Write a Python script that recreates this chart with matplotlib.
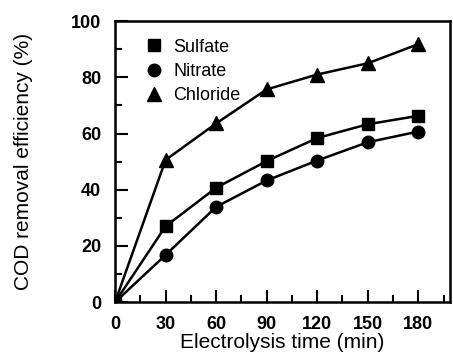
import matplotlib
matplotlib.use("Agg")
import matplotlib.pyplot as plt
from matplotlib.ticker import MultipleLocator

plt.rcParams['font.family'] = ['Liberation Sans', 'DejaVu Sans']

time = [0, 30, 60, 90, 120, 150, 180]
sulfate = [0, 27, 40.7, 50.2, 58.4, 63.3, 66.3]
nitrate = [0, 16.8, 33.9, 43.3, 50.4, 56.9, 60.7]
chloride = [0, 50.6, 63.6, 75.7, 81.0, 85.0, 91.8]
xticks = [0, 30, 60, 90, 120, 150, 180]
yticks = [0, 20, 40, 60, 80, 100]

fig = plt.figure(figsize=(4.53, 3.58), dpi=100)
ax = fig.add_axes([0.254, 0.156, 0.74, 0.785])

ax.plot(time, sulfate, '-s', color='black', lw=1.8, ms=9, label='Sulfate')
ax.plot(time, nitrate, '-o', color='black', lw=1.8, ms=9, label='Nitrate')
ax.plot(time, chloride, '-^', color='black', lw=1.8, ms=10, label='Chloride')

ax.set_xlim(0, 199)
ax.set_ylim(0, 100)
ax.set_xticks(xticks)
ax.set_yticks(yticks)
ax.xaxis.set_minor_locator(MultipleLocator(15))
ax.yaxis.set_minor_locator(MultipleLocator(10))
ax.tick_params(which='major', direction='in', length=9, width=1.5, labelsize=13, pad=10)
ax.tick_params(which='minor', direction='in', length=5, width=1.5)
for lab in ax.get_xticklabels() + ax.get_yticklabels():
    lab.set_fontweight('bold')
for s in ax.spines.values():
    s.set_linewidth(1.8)

ax.set_xlabel('Electrolysis time (min)', fontsize=15, labelpad=0)
ax.set_ylabel('COD removal efficiency (%)', fontsize=15, labelpad=27)

leg = ax.legend(loc='upper left', frameon=False, fontsize=13, handlelength=1.0,
                handletextpad=0.6, labelspacing=0.4, borderaxespad=0.5,
                bbox_to_anchor=(0.04, 0.995))
for h in leg.legend_handles:
    h.set_linestyle('None')

fig.savefig('out.png', dpi=100)
